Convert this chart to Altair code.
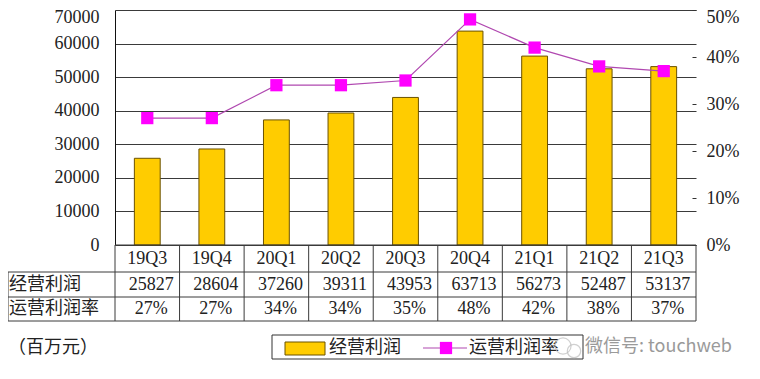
import altair as alt
import pandas as pd

quarters = ["19Q3", "19Q4", "20Q1", "20Q2", "20Q3", "20Q4", "21Q1", "21Q2", "21Q3"]
op_profit = [25827, 28604, 37260, 39311, 43953, 63713, 56273, 52487, 53137]
op_margin_pct = [27, 27, 34, 34, 35, 48, 42, 38, 37]
left_ticks = [0, 10000, 20000, 30000, 40000, 50000, 60000, 70000]
right_ticks = [0, 0.1, 0.2, 0.3, 0.4, 0.5]
row_labels = ["经营利润", "运营利润率"]
legend_labels = ["经营利润", "运营利润率"]
unit_label = "（百万元）"
watermark = "微信号: touchweb"

df = pd.DataFrame({
    "q": quarters,
    "profit": op_profit,
    "margin": [m / 100 for m in op_margin_pct],
    "profit_label": [str(v) for v in op_profit],
    "margin_label": [f"{m}%" for m in op_margin_pct],
})

W, H = 581, 235
STEP = W / len(quarters)
SERIF = "Liberation Serif"
CJK = "Noto Sans CJK SC"
TXT = "#222222"
LINE = "#3a3a3a"

xscale = alt.Scale(domain=quarters, paddingInner=0.6, paddingOuter=0.3)
xenc = alt.X("q:N", sort=quarters, scale=xscale, axis=None)

base = alt.Chart(df)

bars = base.mark_bar(color="#FFCC00", stroke="#6B5200", strokeWidth=1).encode(
    x=xenc,
    y=alt.Y(
        "profit:Q",
        scale=alt.Scale(domain=[0, 70000]),
        axis=alt.Axis(
            values=left_ticks, title=None, ticks=False, grid=True,
            gridColor="#3a3a3a", gridWidth=1, domainColor="#111111",
            labelFont=SERIF, labelFontSize=18, labelColor=TXT, labelPadding=16,
            format="d",
            labelOffset={"condition": {"test": "datum.value == 70000", "value": 7}, "value": 0},
        ),
    ),
)

yright = alt.Y(
    "margin:Q",
    scale=alt.Scale(domain=[0, 0.5]),
    axis=alt.Axis(
        orient="right", values=right_ticks, format=".0%", title=None,
        grid=False, domain=False, tickSize=4, tickColor="#333333", offset=-4,
        labelFont=SERIF, labelFontSize=18, labelColor=TXT, labelPadding=10,
        labelOffset={"condition": {"test": "datum.value == 0.5", "value": 7}, "value": 0},
    ),
)
line = base.mark_line(color="#B048B0", strokeWidth=1.2).encode(x=xenc, y=yright)
pts = base.mark_square(size=150, color="#FF00FF", opacity=1).encode(x=xenc, y=yright)
right = alt.layer(line, pts)

one = pd.DataFrame({"k": [0]})


def hrule(y, x0, x1):
    return alt.Chart(one).mark_rule(color=LINE, strokeWidth=1).encode(
        x=alt.value(x0), x2=alt.value(x1), y=alt.value(y)
    )


def vrule(x, y0, y1):
    return alt.Chart(one).mark_rule(color=LINE, strokeWidth=1).encode(
        x=alt.value(x), y=alt.value(y0), y2=alt.value(y1)
    )


table_lines = [
    hrule(H, 0, W),
    hrule(262, -107, W),
    hrule(287, -107, W),
    hrule(311, -107, W),
    vrule(-107, 262, 311),
    vrule(W, H, 311),
]
cell_bounds = base.mark_rule(color=LINE, strokeWidth=1, xOffset=-0.3 * STEP).encode(
    x=alt.X("q:N", sort=quarters, scale=xscale, axis=None, bandPosition=0),
    y=alt.value(H), y2=alt.value(311),
)

cat_text = base.mark_text(font=SERIF, fontSize=18, color=TXT, baseline="middle").encode(
    x=xenc, y=alt.value(248.5), text="q:N"
)
profit_text = base.mark_text(font=SERIF, fontSize=18, color=TXT, baseline="middle", dx=4).encode(
    x=xenc, y=alt.value(274.5), text="profit_label:N"
)
margin_text = base.mark_text(font=SERIF, fontSize=18, color=TXT, baseline="middle", dx=4).encode(
    x=xenc, y=alt.value(299), text="margin_label:N"
)


def label(text, x, y, color=TXT, size=18, font=CJK):
    return alt.Chart(one).mark_text(
        text=text, font=font, fontSize=size, color=color, align="left", baseline="middle"
    ).encode(x=alt.value(x), y=alt.value(y))


row1 = label(row_labels[0], -106, 274.5)
row2 = label(row_labels[1], -106, 299)
unit = label(unit_label, -107, 338)

legend_box = alt.Chart(one).mark_rect(fill="white", stroke="#333333", strokeWidth=1).encode(
    x=alt.value(157), x2=alt.value(468), y=alt.value(325), y2=alt.value(349)
)
legend_swatch = alt.Chart(one).mark_rect(fill="#FFCC00", stroke="#6B5200", strokeWidth=1).encode(
    x=alt.value(170), x2=alt.value(210), y=alt.value(332), y2=alt.value(345)
)
legend_t1 = label(legend_labels[0], 214, 338)
legend_line = alt.Chart(one).mark_rule(color="#B048B0", strokeWidth=1.2).encode(
    x=alt.value(308), x2=alt.value(352), y=alt.value(338)
)
legend_sq = alt.Chart(one).mark_square(size=150, color="#FF00FF", opacity=1).encode(
    x=alt.value(331), y=alt.value(338)
)
legend_t2 = label(legend_labels[1], 354, 338)
wm = label(watermark, 470, 337, color="#9a9a9a")
wm_icon1 = alt.Chart(one).mark_point(shape="circle", size=260, color="#bdbdbd", strokeWidth=1.2).encode(
    x=alt.value(448), y=alt.value(336)
)
wm_icon2 = alt.Chart(one).mark_point(shape="circle", size=180, color="#bdbdbd", strokeWidth=1.2).encode(
    x=alt.value(459), y=alt.value(341)
)

chart = alt.layer(
    bars, right, *table_lines, cell_bounds, cat_text, profit_text, margin_text,
    row1, row2, unit, legend_box, legend_swatch, legend_t1, legend_line, legend_sq,
    legend_t2, wm_icon1, wm_icon2, wm,
).resolve_scale(y="independent").properties(
    width=W, height=H,
    autosize=alt.AutoSizeParams(type="none"),
    padding={"left": 107, "top": 2, "right": 56, "bottom": 120},
    background="white",
).configure_view(stroke=None)

chart.save("out.html", embed_options={"renderer": "svg", "actions": False})
